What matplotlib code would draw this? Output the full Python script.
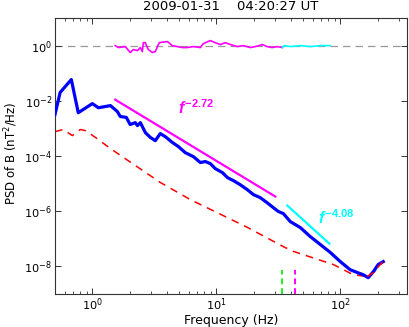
import matplotlib
matplotlib.use("Agg")
import matplotlib.pyplot as plt
from matplotlib.ticker import LogLocator, NullLocator, NullFormatter

plt.rcParams['font.family'] = ['DejaVu Sans']
plt.rcParams['mathtext.fontset'] = 'custom'
plt.rcParams['mathtext.it'] = 'Liberation Sans:italic:bold'
plt.rcParams['mathtext.rm'] = 'Liberation Sans:bold'
plt.rcParams['mathtext.bf'] = 'Liberation Sans:bold'

title = "2009-01-31    04:20:27 UT"
xlabel = "Frequency (Hz)"
ylabel = r"PSD of B (nT$^{\mathdefault{2}}$/Hz)"

# Observed magnetic PSD (blue)
psd_f = [0.50, 0.55, 0.677, 0.77, 1.0, 1.12, 1.40, 1.59, 1.68, 1.88, 2.02, 2.22, 2.31, 2.44,
         2.68, 2.94, 3.22, 3.53, 3.88, 4.42, 4.94, 5.62, 6.53, 7.43, 8.15, 8.95, 9.8, 11.2,
         12.3, 13.7, 15.6, 17.8, 19.9, 22.6, 25.8, 28.8, 31.6, 34.7, 39.5, 47.6, 57.3, 69.0,
         83.0, 100, 120, 137, 153, 168, 185, 202, 222]
psd_p = [3.2e-3, 2.0e-2, 5.9e-2, 3.7e-3, 7.9e-3, 5.6e-3, 6.7e-3, 4.1e-3, 2.7e-3, 2.5e-3,
         1.38e-3, 1.62e-3, 1.26e-3, 1.62e-3, 7.0e-4, 4.7e-4, 3.6e-4, 6.5e-4, 5.0e-4, 3.1e-4,
         2.2e-4, 1.32e-4, 9.5e-5, 5.8e-5, 6.3e-5, 5.3e-5, 3.5e-5, 2.5e-5, 1.65e-5, 1.29e-5,
         9.1e-6, 6.0e-6, 4.0e-6, 3.1e-6, 2.0e-6, 1.35e-6, 9.8e-7, 8.2e-7, 4.2e-7, 2.55e-7,
         1.2e-7, 6.2e-8, 3.2e-8, 1.49e-8, 7.6e-9, 6.0e-9, 5.0e-9, 3.9e-9, 6.5e-9, 1.17e-8, 1.49e-8]

# Noise / background level (red dashed)
noise_f = [0.50, 0.58, 0.69, 0.80, 0.88, 1.06, 1.4, 3.53, 6.2, 17.8, 34.7, 41.8, 87.8, 127,
           165, 185, 210, 222]
noise_p = [7.6e-4, 9.1e-4, 5.5e-4, 9.1e-4, 8.3e-4, 4.7e-4, 1.86e-4, 1.1e-5, 2.6e-6, 2.6e-7,
           5.2e-8, 3.5e-8, 1.17e-8, 5.0e-9, 4.3e-9, 6.0e-9, 1.17e-8, 1.49e-8]

# Power-law fits
fit1_f = [1.53, 29.9]
fit1_p = [1.1e-2, 3.4e-6]
fit1_label = r"$f^{-2.72}$"
fit2_f = [37.4, 81.5]
fit2_p = [1.6e-6, 6.7e-8]
fit2_label = r"$f^{-4.08}$"

# Ratio curves near 1
ratio1_f = [1.53, 1.62, 1.85, 2.02, 2.14, 2.31, 2.44, 2.53, 2.58, 2.67, 2.83, 3.05, 3.22, 3.47,
            4.03, 4.41, 4.85, 5.32, 5.84, 6.53, 7.43, 7.86, 8.93, 9.8, 10.8, 11.8, 13.0, 14.8,
            16.5, 18.8, 20.6, 23.5, 25.7, 28.2, 31.0, 34.1]
ratio1_v = [1.0, 0.85, 0.92, 0.56, 0.72, 0.66, 0.85, 0.61, 1.28, 1.28, 0.72, 0.56, 0.61, 1.28,
            1.40, 1.0, 0.92, 0.85, 0.85, 0.92, 0.85, 1.18, 1.52, 1.28, 1.09, 1.28, 1.09, 0.92,
            1.0, 0.85, 0.92, 1.09, 0.92, 0.85, 0.92, 0.85]
ratio2_f = [34.1, 35.3, 39.5, 47.6, 57.3, 69.0, 83.0]
ratio2_v = [0.85, 1.0, 0.92, 1.0, 0.92, 1.0, 1.0]

# Vertical markers
vline_green = 34.0
vline_magenta = 43.4
vline_top = 7.6e-9

fig = plt.figure(figsize=(4.09, 3.27), dpi=100)
ax = fig.add_axes([55/409, 33/327, 352/409, 276/327])

ax.axhline(1.0, color='#999999', ls=(0, (6, 4)), lw=0.9, zorder=1)
ax.plot(ratio1_f, ratio1_v, color='#ff00ff', lw=1.2, zorder=3)
ax.plot(ratio2_f, ratio2_v, color='#00ffff', lw=1.2, zorder=3)

ax.plot(noise_f, noise_p, color='#ff0000', ls=(0, (5, 4)), lw=1.1, zorder=2)
ax.plot(psd_f, psd_p, color='#0000ff', lw=2.3, zorder=3)
ax.plot(noise_f[-4:], noise_p[-4:], color='#ff0000', ls=(0, (5, 4)), lw=1.1, zorder=4)

ax.plot(fit1_f, fit1_p, color='#ff00ff', lw=1.6, zorder=3)
ax.plot(fit2_f, fit2_p, color='#00ffff', lw=1.6, zorder=3)
ax.text(4.94, 5.7e-3, fit1_label, color='#ff00ff', fontsize=11.5, ha='left', va='center')
ax.text(66.5, 5.9e-7, fit2_label, color='#00ffff', fontsize=11.5, ha='left', va='center')

ax.plot([vline_green, vline_green], [1e-9, vline_top], color='#22ee22', ls=(0, (3, 2)), lw=1.4)
ax.plot([vline_magenta, vline_magenta], [1e-9, vline_top], color='#ff00ff', ls=(0, (3, 2)), lw=1.4)

ax.set_xscale('log')
ax.set_yscale('log')
ax.set_xlim(0.5, 345)
ax.set_ylim(1e-9, 1e1)
ax.set_yticks([1e-8, 1e-6, 1e-4, 1e-2, 1e0])
ax.yaxis.set_minor_locator(NullLocator())
ax.xaxis.set_minor_locator(LogLocator(base=10, subs=range(2, 10)))
ax.xaxis.set_minor_formatter(NullFormatter())

ax.tick_params(which='both', direction='in', top=True, right=True, labelsize=8.2, color='#333333')
ax.tick_params(axis='x', pad=1.5)
ax.tick_params(axis='y', pad=2)
ax.tick_params(which='major', length=4, width=0.7)
ax.tick_params(which='minor', length=2, width=0.6)
for s in ax.spines.values():
    s.set_linewidth(0.8)
    s.set_color('#333333')

ax.set_xlabel(xlabel, fontsize=9)
ax.xaxis.label.set_verticalalignment('baseline')
ax.xaxis.set_label_coords(0.5, -0.107)
ax.set_ylabel(ylabel, fontsize=8.5)
ax.yaxis.set_label_coords(-0.099, 0.511)
ax.set_title(title, fontsize=9.5, pad=6)

fig.savefig("out.png", dpi=100)
